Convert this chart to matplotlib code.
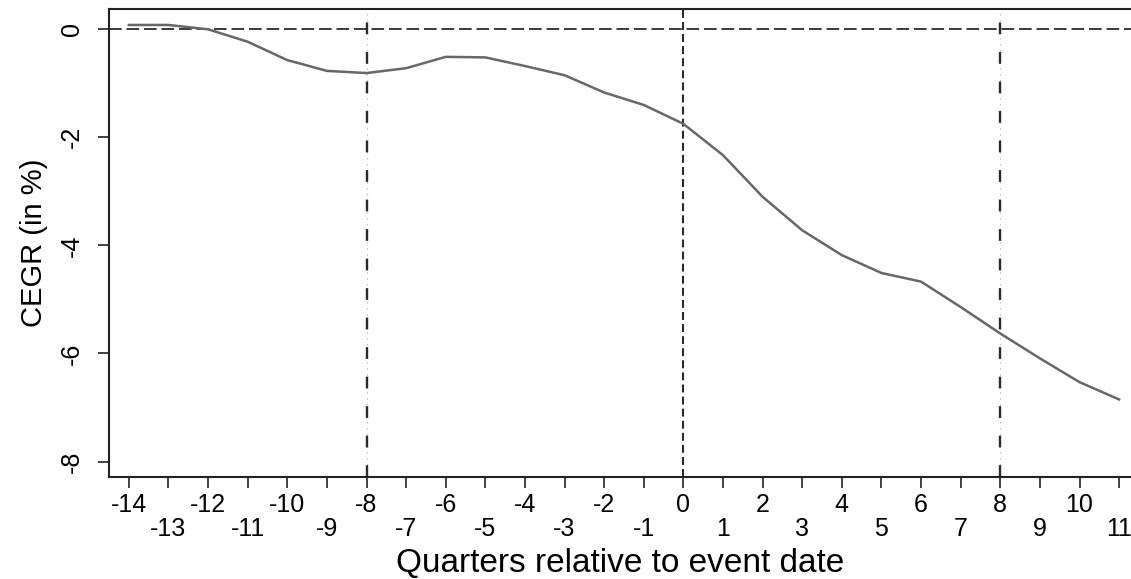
"""Cumulative excess growth rate around the event date."""

import matplotlib
matplotlib.use("agg")
import matplotlib.pyplot as plt

quarters = list(range(-14, 12))
cegr = [0.08, 0.08, 0.0, -0.23, -0.57, -0.77, -0.81, -0.72, -0.51, -0.52,
        -0.68, -0.85, -1.17, -1.40, -1.75, -2.33, -3.10, -3.72, -4.18, -4.51,
        -4.67, -5.14, -5.63, -6.09, -6.53, -6.85]
y_ticks = [0, -2, -4, -6, -8]
even_quarters = [q for q in quarters if q % 2 == 0]
odd_quarters = [q for q in quarters if q % 2 != 0]

plt.rcParams["font.family"] = ["Liberation Sans", "DejaVu Sans"]

fig = plt.figure(figsize=(11.31, 5.79), dpi=100)
ax = fig.add_axes([0.0964, 0.1767, 0.9036, 0.8078])

ax.plot(quarters, cegr, color="#676767", linewidth=1.8, zorder=3)

# Reference lines
ax.axhline(0, color="#3a3a3a", linewidth=1.4, linestyle=(0, (6.5, 2.5)), zorder=2)
ax.axvline(0, color="#2a2a2a", linewidth=1.5, linestyle=(0, (3.8, 2.0)), zorder=2)
for q in (-8, 8):
    ax.axvline(q, color="#b5b5b5", linewidth=0.8, linestyle=(0, (1.2, 4.2)), zorder=1)
    ax.axvline(q, color="#2a2a2a", linewidth=1.7, linestyle=(0, (5.0, 7.5)), zorder=2)

ax.set_xlim(-14.5, 11.3)
ax.set_ylim(-8.28, 0.376)

# Two-row x tick labels: even quarters on top, odd ones below
ax.set_xticks(even_quarters)
ax.set_xticklabels([str(q) for q in even_quarters])
ax.set_xticks(odd_quarters, minor=True)
ax.set_xticklabels([str(q) for q in odd_quarters], minor=True)
ax.set_yticks(y_ticks)
ax.set_yticklabels([str(v) for v in y_ticks], rotation=90, va="center")

ax.tick_params(axis="both", which="both", length=8, width=1.2, color="#222222")
ax.tick_params(axis="x", which="major", labelsize=18, pad=4)
ax.tick_params(axis="x", which="minor", labelsize=18, pad=21)
ax.tick_params(axis="y", labelsize=18, pad=10)

for side in ("left", "bottom", "top"):
    ax.spines[side].set_linewidth(1.5)
    ax.spines[side].set_color("#222222")
ax.spines["right"].set_visible(False)

ax.set_xlabel("Quarters relative to event date", fontsize=24, labelpad=5)
ax.set_ylabel("CEGR (in %)", fontsize=21, labelpad=9)

fig.savefig("out.png", dpi=100)
plt.close(fig)
